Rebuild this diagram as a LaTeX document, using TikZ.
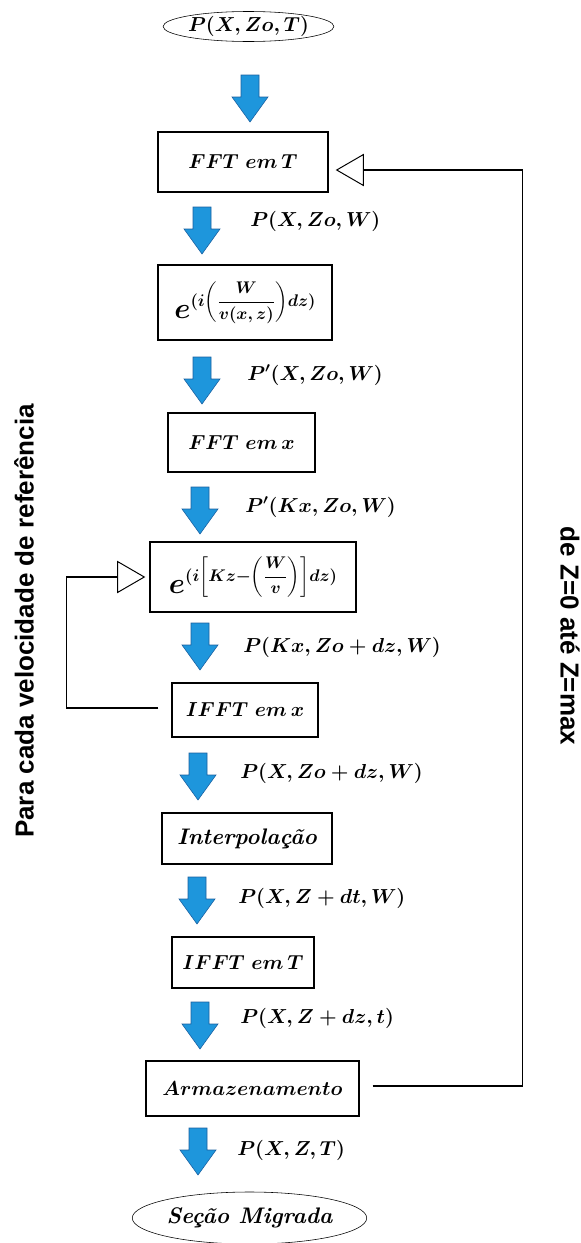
\documentclass[tikz,border=0pt]{standalone}
\usepackage{amsmath,amssymb}
\usepackage{fontspec}
\newfontfamily\arialb{Liberation Sans}
\usetikzlibrary{shapes.geometric,arrows.meta,calc}
\definecolor{setaazul}{RGB}{30,150,220}
\definecolor{bordaazul}{RGB}{25,95,160}
\newcommand{\expo}[1]{{\huge$e$}\raisebox{9pt}{\large$#1$}}

\begin{document}
\begin{tikzpicture}[x=0.025cm,y=-0.025cm,
  caixa/.style={draw,line width=1pt,inner sep=0pt,font=\Large\boldmath},
  elipse/.style={draw,ellipse,thin,inner sep=0pt,font=\Large\boldmath},
  rotulo/.style={anchor=west,inner sep=0pt,font=\Large\boldmath},
  palavra/.style={font=\fontsize{16}{18}\selectfont\bfseries\itshape},
  retorno/.style={line width=0.9pt,-{Triangle[open,length=20pt,width=23pt,line width=0.7pt]}},
  lateral/.style={inner sep=0pt,font=\arialb\bfseries\fontsize{18.5}{20}\selectfont}]
\useasboundingbox (0,0) rectangle (580,1243);

% blocos do fluxo
\node[elipse,minimum width=3.925cm,minimum height=0.75cm] (ini) at (248.5,26.5) {$P(X,Zo,T)$};
\node[caixa,minimum width=4.25cm,minimum height=1.5cm] (fftT) at (243,162) {$FFT\ em\,T$};
\node[caixa,minimum width=4.35cm,minimum height=1.875cm] (expA) at (245,302.5) {\expo{(i\!\left(\dfrac{W}{v(x,z)}\right)\!dz)}};
\node[caixa,minimum width=3.675cm,minimum height=1.475cm] (fftx) at (241.5,442.5) {$FFT\ em\,x$};
\node[caixa,minimum width=5.15cm,minimum height=1.75cm] (expB) at (253,577) {\expo{(i\!\left[Kz{-}\!\left(\dfrac{W}{v}\right)\right]\!dz)}};
\node[caixa,minimum width=3.65cm,minimum height=1.35cm] (ifftx) at (245,710) {$IFFT\ em\,x$};
\node[caixa,palavra,minimum width=4.25cm,minimum height=1.275cm] (interp) at (247,838.5) {Interpolação};
\node[caixa,minimum width=3.55cm,minimum height=1.275cm] (ifftT) at (243,962.5) {$IFFT\ em\,T$};
\node[caixa,minimum width=5.325cm,minimum height=1.375cm] (arm) at (252.5,1088.5) {$Armazenamento$};
\node[elipse,palavra,minimum width=5.375cm,minimum height=1.3cm] (fim) at (249.5,1218) {Seção Migrada};

% setas azuis
\foreach \x/\y in {250/75,202/207,202/357,200/487,200/623,198/753,197/877,200/1002,198/1128}
  \draw[fill=setaazul,draw=bordaazul,line width=0.4pt] (\x-9,\y) -- (\x+9,\y) -- (\x+9,\y+22) -- (\x+18,\y+22)
    -- (\x,\y+47) -- (\x-18,\y+22) -- (\x-9,\y+22) -- cycle;

% rotulos
\node[rotulo] (r1) at (250,221) {$P(X,Zo,W)$};
\node[rotulo] (r2) at (247,375) {$P'(X,Zo,W)$};
\node[rotulo] (r3) at (245,507) {$P'(Kx,Zo,W)$};
\node[rotulo] (r4) at (243,647) {$P(Kx,Zo+dz,W)$};
\node[rotulo] (r5) at (240,773) {$P(X,Zo+dz,W)$};
\node[rotulo] (r6) at (238,898) {$P(X,Z+dt,W)$};
\node[rotulo] (r7) at (240,1018) {$P(X,Z+dz,t)$};
\node[rotulo] (r8) at (237,1150) {$P(X,Z,T)$};

% lacos
\draw[retorno] ($(ifftx.west)+(-13,-2)$) -| ($(expB.west)+(-83,0)$) -- ($(expB.west)+(-4,0)$);
\draw[retorno] ($(arm.east)+(13,-2.5)$) -| ($(fftT.east)+(194,8)$) -- ($(fftT.east)+(7,8)$);

\node[lateral,rotate=90] (vel) at (24,621) {Para cada velocidade de referência};
\node[lateral,rotate=-90] (zmax) at (570,636) {de Z=0 até Z=max};
\end{tikzpicture}
\end{document}
